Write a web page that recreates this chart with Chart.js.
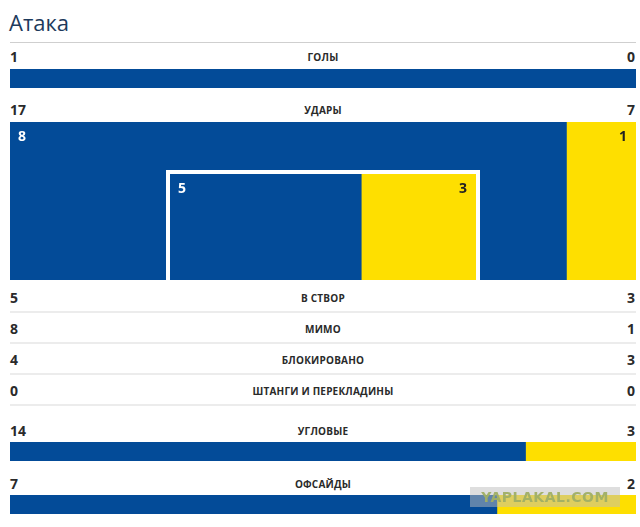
<!DOCTYPE html>
<html>
<head>
<meta charset="utf-8">
<script src="https://cdn.jsdelivr.net/npm/chart.js@4.4.1/dist/chart.umd.min.js"></script>
<style>
    body { margin: 0; background: #fff; font-family: "Open Sans", "DejaVu Sans", sans-serif; }
    #wrap { position: relative; width: 640px; height: 527px; overflow: hidden; }
    .abs { position: absolute; }
    .title { left: 9px; top: 7px; font-size: 22px; color: #1d3a5c; }
    .rule { left: 10px; width: 626px; height: 1px; background: #cfcfcf; }
    .sep { left: 10px; width: 626px; height: 2px; background: #ececec; }
    .num { font-size: 14px; font-weight: 700; color: #2a2a2a; line-height: 16px; }
    .num.left { left: 10px; }
    .num.right { right: 5px; text-align: right; }
    .lbl { left: 10px; width: 626px; text-align: center; font-size: 10px; font-weight: 700; color: #2a2a2a; line-height: 16px; letter-spacing: 0.2px; }
    canvas { position: absolute; display: block; }
    #inner-frame { position: absolute; left: 166px; top: 170px; width: 306px; height: 110px;
        border: 4px solid #fff; border-bottom: none; }
    .wm { left: 470px; top: 487px; width: 150px; height: 20px; background: rgba(190,190,190,0.5);
        color: rgba(160,175,100,0.95); font-family: "DejaVu Sans", sans-serif; font-weight: 700;
        font-size: 14px; line-height: 20px; text-align: center; letter-spacing: 0.5px; }
</style>
</head>
<body>
<div id="wrap">
    <div class="abs title">Атака</div>
    <div class="abs rule" style="top:42px"></div>
    <div id="rows"></div>
    <canvas id="bar-goals" width="626" height="19" style="left:10px;top:69px"></canvas>
    <canvas id="bar-miss" width="626" height="158" style="left:10px;top:122px"></canvas>
    <div id="inner-frame"></div>
    <canvas id="bar-target" width="306" height="106" style="left:170px;top:174px"></canvas>
    <canvas id="bar-corners" width="626" height="19" style="left:10px;top:442px"></canvas>
    <canvas id="bar-offsides" width="626" height="19" style="left:10px;top:495px"></canvas>
    <div class="abs wm">YAPLAKAL.COM</div>
</div>
<script>
// Match stats (home / away)
const statLabels = ['ГОЛЫ', 'УДАРЫ', 'В СТВОР', 'МИМО', 'БЛОКИРОВАНО', 'ШТАНГИ И ПЕРЕКЛАДИНЫ', 'УГЛОВЫЕ', 'ОФСАЙДЫ'];
const homeValues = [1, 17, 5, 8, 4, 0, 14, 7];
const awayValues = [0, 7, 3, 1, 3, 0, 3, 2];

const BLUE = '#034b98';
const YELLOW = '#fedf00';

// text row centres (y) for every stat
const rowY = [57, 110, 298, 329, 360, 391, 431, 484];
const sepY = [311, 342, 373, 404];

const rows = document.getElementById('rows');
statLabels.forEach((label, i) => {
    const y = rowY[i] - 8;
    rows.insertAdjacentHTML('beforeend',
        `<div class="abs num left" style="top:${y}px">${homeValues[i]}</div>` +
        `<div class="abs lbl" style="top:${y}px">${label}</div>` +
        `<div class="abs num right" style="top:${y}px">${awayValues[i]}</div>`);
});
sepY.forEach(y => rows.insertAdjacentHTML('beforeend', `<div class="abs sep" style="top:${y}px"></div>`));

// draws the values in the top corners of each bar segment
const cornerLabels = {
    id: 'cornerLabels',
    afterDatasetsDraw(chart) {
        const ctx = chart.ctx;
        ctx.save();
        ctx.font = '700 14px "Open Sans", "DejaVu Sans", sans-serif';
        ctx.textBaseline = 'middle';
        chart.data.datasets.forEach((ds, i) => {
            const bar = chart.getDatasetMeta(i).data[0];
            const top = bar.y - bar.height / 2;
            if (i === 0) {
                ctx.fillStyle = '#fff';
                ctx.textAlign = 'left';
                ctx.fillText(ds.data[0], bar.base + 8, top + 15);
            } else {
                ctx.fillStyle = '#222';
                ctx.textAlign = 'right';
                ctx.fillText(ds.data[0], bar.x - 9, top + 15);
            }
        });
        ctx.restore();
    }
};

function splitBar(id, idx, withLabels) {
    const total = homeValues[idx] + awayValues[idx];
    return new Chart(document.getElementById(id), {
        type: 'bar',
        data: {
            labels: [statLabels[idx]],
            datasets: [
                { data: [homeValues[idx]], backgroundColor: BLUE },
                { data: [awayValues[idx]], backgroundColor: YELLOW }
            ]
        },
        options: {
            indexAxis: 'y',
            responsive: false,
            animation: false,
            layout: { padding: 0 },
            datasets: { bar: { barPercentage: 1, categoryPercentage: 1, borderWidth: 0 } },
            plugins: { legend: { display: false }, tooltip: { enabled: false } },
            scales: {
                x: { stacked: true, display: false, min: 0, max: total },
                y: { stacked: true, display: false }
            }
        },
        plugins: withLabels ? [cornerLabels] : []
    });
}

splitBar('bar-goals', 0, false);
splitBar('bar-miss', 3, true);
splitBar('bar-target', 2, true);
splitBar('bar-corners', 6, false);
splitBar('bar-offsides', 7, false);
</script>
</body>
</html>
